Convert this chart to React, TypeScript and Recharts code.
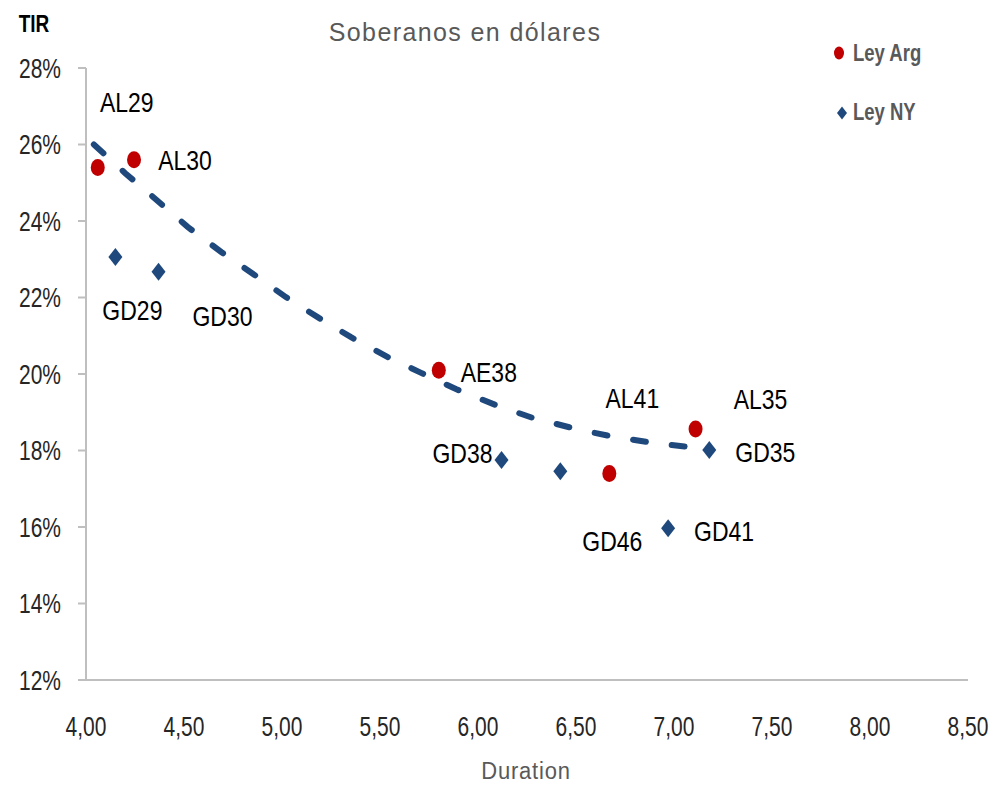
import type { ReactNode } from 'react';
import { ScatterChart, Scatter, XAxis, YAxis } from 'recharts';

const FONT = "'Liberation Sans', Arial, sans-serif";
const RED = '#c00000';
const BLUE = '#1f497d';
const GRAY = '#595959';
const AXIS = '#bfbfbf';

// Ley Arg (duration, TIR %)
const argNames = ['AL29', 'AL30', 'AE38', 'AL41', 'AL35'];
const argDuration = [4.06, 4.245, 5.8, 6.67, 7.11];
const argTir = [25.4, 25.6, 20.1, 17.4, 18.56];

// Ley NY
const nyNames = ['GD29', 'GD30', 'GD38', 'GD46', 'GD41', 'GD35'];
const nyDuration = [4.15, 4.37, 6.12, 6.42, 6.97, 7.18];
const nyTir = [23.06, 22.67, 17.75, 17.46, 15.97, 18.01];

// tendencia
const trendDuration = [4.04, 4.2, 4.36, 4.52, 4.69, 4.86, 5.02, 5.19, 5.35, 5.54, 5.71, 5.89, 6.09, 6.28, 6.48, 6.67, 6.89, 7.1];
const trendTir = [26.0, 25.25, 24.55, 23.84, 23.19, 22.59, 22.01, 21.46, 20.97, 20.44, 20.03, 19.6, 19.19, 18.85, 18.59, 18.38, 18.2, 18.08];

const xTicks = [4, 4.5, 5, 5.5, 6, 6.5, 7, 7.5, 8, 8.5];
const yTicks = [12, 14, 16, 18, 20, 22, 24, 26, 28];

// label placement relative to each marker
const LABEL_OFFSETS: Record<string, [number, number]> = {
  AL29: [29, -65],
  AL30: [51, 0],
  AE38: [50, 2],
  AL41: [23, -75],
  AL35: [65, -30],
  GD29: [17, 53],
  GD30: [64, 44],
  GD38: [-39, -7],
  GD46: [52, 70],
  GD41: [56, 3],
  GD35: [56, 2],
};

const argData = argNames.map((name, i) => ({ name, x: argDuration[i], y: argTir[i] }));
const nyData = nyNames.map((name, i) => ({ name, x: nyDuration[i], y: nyTir[i] }));
const trendData = trendDuration.map((x, i) => ({ x, y: trendTir[i] }));

// the source image is stretched vertically, so text gets a scale transform
type STextProps = {
  x: number;
  y: number;
  fs: number;
  sx?: number;
  sy?: number;
  anchor?: 'start' | 'middle' | 'end';
  fill?: string;
  bold?: boolean;
  spacing?: number;
  children: ReactNode;
};

const SText = ({ x, y, fs, sx = 1, sy = 1, anchor = 'middle', fill = '#000', bold, spacing, children }: STextProps) => (
  <text
    transform={`translate(${x},${y}) scale(${sx},${sy})`}
    x={0}
    y={0}
    textAnchor={anchor}
    dominantBaseline="central"
    fontFamily={FONT}
    fontSize={fs}
    fontWeight={bold ? 'bold' : 'normal'}
    letterSpacing={spacing}
    fill={fill}
  >
    {children}
  </text>
);

const PointLabel = ({ cx, cy, name }: { cx: number; cy: number; name: string }) => {
  const [dx, dy] = LABEL_OFFSETS[name] ?? [0, 0];
  return (
    <SText x={cx + dx} y={cy + dy} fs={23} sy={1.18}>
      {name}
    </SText>
  );
};

const ArgShape = (props: any) => {
  const { cx, cy, payload } = props;
  return (
    <g>
      <ellipse cx={cx} cy={cy} rx={7} ry={8.5} fill={RED} />
      <PointLabel cx={cx} cy={cy} name={payload.name} />
    </g>
  );
};

const NyShape = (props: any) => {
  const { cx, cy, payload } = props;
  return (
    <g>
      <polygon points={`${cx},${cy - 9} ${cx + 7},${cy} ${cx},${cy + 9} ${cx - 7},${cy}`} fill={BLUE} />
      <PointLabel cx={cx} cy={cy} name={payload.name} />
    </g>
  );
};

const XTick = (props: any) => (
  <SText x={props.x} y={props.y} fs={21} sy={1.33} fill="#262626">
    {Number(props.payload.value).toFixed(2).replace('.', ',')}
  </SText>
);

const YTick = (props: any) => (
  <SText x={props.x} y={props.y} fs={21} sy={1.33} anchor="end" fill="#262626">
    {`${props.payload.value}%`}
  </SText>
);

export default function App() {
  return (
    <div style={{ position: 'absolute', left: 0, top: 0, width: 992, height: 785, background: '#fff' }}>
      <ScatterChart width={992} height={785} margin={{ top: 68, right: 24, bottom: 45, left: 16 }}>
        <SText x={465} y={32} fs={25} sy={1.05} fill={GRAY} spacing={1.4}>
          Soberanos en dólares
        </SText>
        <SText x={34} y={24} fs={19} sy={1.28} bold>
          TIR
        </SText>
        <SText x={526} y={771} fs={22} sy={1.12} fill={GRAY} spacing={0.8}>
          Duration
        </SText>

        {/* leyenda */}
        <ellipse cx={839} cy={53} rx={5} ry={6.5} fill={RED} />
        <SText x={853} y={53} fs={18.5} sy={1.25} anchor="start" fill={GRAY} bold>
          Ley Arg
        </SText>
        <polygon points="842,106.5 847,113 842,119.5 837,113" fill={BLUE} />
        <SText x={853} y={112} fs={18.5} sy={1.25} anchor="start" fill={GRAY} bold>
          Ley NY
        </SText>

        <XAxis
          type="number"
          dataKey="x"
          domain={[4, 8.5]}
          ticks={xTicks}
          axisLine={{ stroke: AXIS, strokeWidth: 2 }}
          tickLine={false}
          tickSize={0}
          tickMargin={46}
          tick={<XTick />}
          height={60}
          allowDataOverflow
        />
        <YAxis
          type="number"
          dataKey="y"
          domain={[12, 28]}
          ticks={yTicks}
          axisLine={{ stroke: AXIS, strokeWidth: 2 }}
          tickLine={{ stroke: AXIS, strokeWidth: 2 }}
          tickSize={8}
          tickMargin={17}
          tick={<YTick />}
          width={70}
          allowDataOverflow
        />
        <Scatter
          name="tendencia"
          data={trendData}
          line={{ stroke: BLUE, strokeWidth: 6, strokeDasharray: '13 26', strokeLinecap: 'round' }}
          lineType="joint"
          shape={() => <g />}
          legendType="none"
          isAnimationActive={false}
        />
        <Scatter name="Ley Arg" data={argData} shape={ArgShape} isAnimationActive={false} />
        <Scatter name="Ley NY" data={nyData} shape={NyShape} isAnimationActive={false} />
      </ScatterChart>
    </div>
  );
}
